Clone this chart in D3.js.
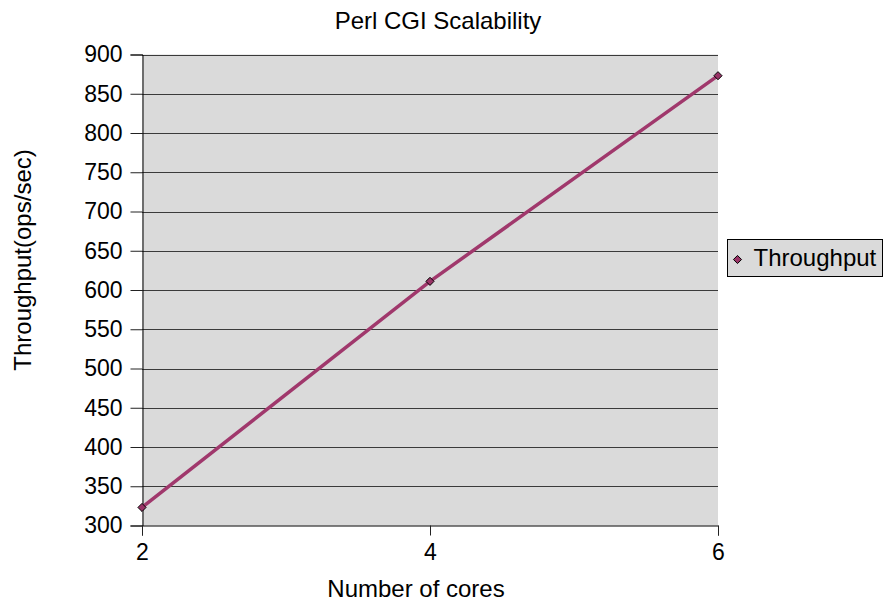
<!DOCTYPE html>
<html>
<head>
<meta charset="utf-8">
<script src="https://cdn.jsdelivr.net/npm/d3@7"></script>
<style>
  html, body { margin: 0; padding: 0; background: #fff; }
  svg { display: block; font-family: "Liberation Sans", Arial, sans-serif; }
</style>
</head>
<body>
<svg id="chart" width="885" height="601"></svg>
<script>
// Throughput measured for each core count
const cores = [2, 4, 6];
const throughput = [323, 611, 873];
const yTicks = [300, 350, 400, 450, 500, 550, 600, 650, 700, 750, 800, 850, 900];
const seriesName = "Throughput";

const svg = d3.select("#chart");
const plot = { left: 142, right: 718, top: 54.5, bottom: 525.5 };
const FONT = "Liberation Sans, Arial, sans-serif";

const x = d3.scaleLinear().domain([2, 6]).range([plot.left, plot.right]);
const y = d3.scaleLinear().domain([300, 900]).range([plot.bottom, plot.top]);

// plot background
svg.append("rect")
  .attr("x", plot.left).attr("y", plot.top)
  .attr("width", plot.right - plot.left).attr("height", plot.bottom - plot.top)
  .attr("fill", "#dadada");

// horizontal gridlines
svg.append("g").selectAll("line").data(yTicks.filter(d => d > 300)).join("line")
  .attr("x1", plot.left).attr("x2", plot.right)
  .attr("y1", d => Math.round(y(d)) + 0.5).attr("y2", d => Math.round(y(d)) + 0.5)
  .attr("stroke", "#3a3a3a").attr("stroke-width", 1);

// y axis
const yAxis = svg.append("g")
  .attr("transform", `translate(${plot.left + 0.5},0)`)
  .call(d3.axisLeft(y).tickValues(yTicks).tickSize(12).tickPadding(8).tickFormat(d3.format("d")));
yAxis.selectAll("line").attr("stroke", "#222");
yAxis.select(".domain").attr("stroke", "#000");
yAxis.selectAll("text").attr("font-size", 23).attr("fill", "#000").attr("font-family", FONT);

// x axis
const xAxis = svg.append("g")
  .attr("transform", `translate(0,${plot.bottom})`)
  .call(d3.axisBottom(x).tickValues(cores).tickSize(10).tickPadding(8).tickFormat(d3.format("d")));
xAxis.selectAll("line").attr("stroke", "#222");
xAxis.select(".domain").attr("stroke", "#000");
xAxis.selectAll("text").attr("font-size", 23).attr("fill", "#000").attr("font-family", FONT);

// series line
const pts = cores.map((c, i) => [c, throughput[i]]);
svg.append("path")
  .datum(pts)
  .attr("fill", "none")
  .attr("stroke", "#a0386c")
  .attr("stroke-width", 3.5)
  .attr("d", d3.line().x(d => x(d[0])).y(d => y(d[1])));

// diamond markers
const diamond = d3.symbol().type(d3.symbolDiamond2).size(42);
svg.append("g").selectAll("path").data(pts).join("path")
  .attr("transform", d => `translate(${x(d[0])},${y(d[1])})`)
  .attr("d", diamond)
  .attr("fill", "#993366")
  .attr("stroke", "#000")
  .attr("stroke-width", 1);

// title
svg.append("text")
  .attr("x", 438).attr("y", 29)
  .attr("text-anchor", "middle")
  .attr("font-size", 24)
  .text("Perl CGI Scalability");

// axis titles
svg.append("text")
  .attr("x", 416).attr("y", 597)
  .attr("text-anchor", "middle")
  .attr("font-size", 24)
  .text("Number of cores");

svg.append("text")
  .attr("transform", `translate(31,260) rotate(-90)`)
  .attr("text-anchor", "middle")
  .attr("font-size", 24)
  .text("Throughput(ops/sec)");

// legend
const lg = svg.append("g").attr("transform", "translate(727.5,239.5)");
lg.append("rect")
  .attr("width", 155).attr("height", 37)
  .attr("fill", "#dadada").attr("stroke", "#000").attr("stroke-width", 1);
lg.append("path")
  .attr("transform", "translate(10,20)")
  .attr("d", d3.symbol().type(d3.symbolDiamond2).size(42))
  .attr("fill", "#993366").attr("stroke", "#000").attr("stroke-width", 1);
lg.append("text")
  .attr("x", 26).attr("y", 26.5)
  .attr("font-size", 24)
  .text(seriesName);
</script>
</body>
</html>
